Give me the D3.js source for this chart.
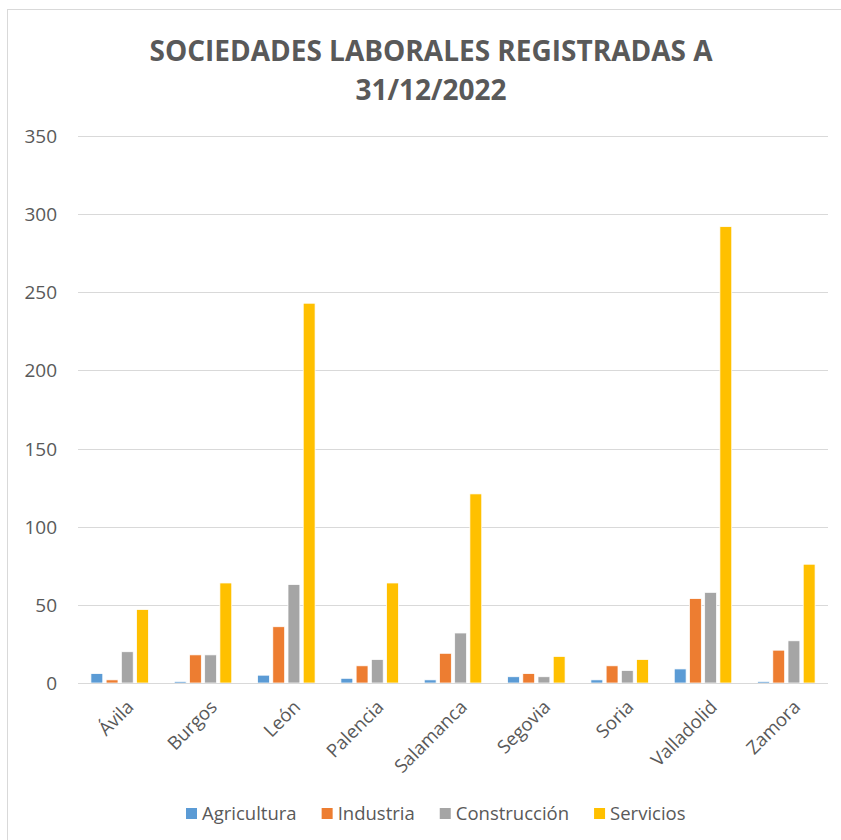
<!DOCTYPE html>
<html>
<head>
<meta charset="utf-8">
<script src="https://cdn.jsdelivr.net/npm/d3@7"></script>
<style>
body { margin: 0; background: #fff; }
#T { width: 841px; height: 840px; }
</style>
</head>
<body>
<div id="T"></div>
<script>
const provincias = ["Ávila", "Burgos", "León", "Palencia", "Salamanca", "Segovia", "Soria", "Valladolid", "Zamora"];
const series = ["Agricultura", "Industria", "Construcción", "Servicios"];
const colores = ["#5b9bd5", "#ed7d31", "#a5a5a5", "#ffc000"];
const agricultura = [6, 1, 5, 3, 2, 4, 2, 9, 1];
const industria = [2, 18, 36, 11, 19, 6, 11, 54, 21];
const construccion = [20, 18, 63, 15, 32, 4, 8, 58, 27];
const servicios = [47, 64, 243, 64, 121, 17, 15, 292, 76];
const yTicks = [0, 50, 100, 150, 200, 250, 300, 350];

const valores = [agricultura, industria, construccion, servicios];
const fuente = "'Open Sans', sans-serif";

const parent = d3.select('#T');
const width = 841, height = 840;
const SVG = parent.append('svg')
    .attr("width", width)
    .attr("height", height);

// marco del grafico
SVG.append("rect")
    .attr("x", 7.5).attr("y", 9.5)
    .attr("width", 840).attr("height", 840)
    .attr("fill", "none").attr("stroke", "#d9d9d9");

SVG.append("text")
    .attr("x", 431).attr("y", 61)
    .attr("text-anchor", "middle")
    .attr("fill", "#595959")
    .style("font-family", fuente)
    .style("font-weight", "bold")
    .style("font-size", "28px")
    .text("SOCIEDADES LABORALES REGISTRADAS A");
SVG.append("text")
    .attr("x", 431).attr("y", 100)
    .attr("text-anchor", "middle")
    .attr("fill", "#595959")
    .style("font-family", fuente)
    .style("font-weight", "bold")
    .style("font-size", "28px")
    .text("31/12/2022");

const x0 = d3.scaleBand().domain(provincias).range([78, 828]).paddingInner(0.31).paddingOuter(0.155);
const x1 = d3.scaleBand().domain(series).range([0, x0.bandwidth()]).paddingInner(0.22);
const y = d3.scaleLinear().domain([0, 350]).range([683, 136]);

// rejilla
SVG.append("g").selectAll("line")
    .data(yTicks)
    .join("line")
    .attr("x1", 78).attr("x2", 828)
    .attr("y1", d => Math.round(y(d)) + 0.5)
    .attr("y2", d => Math.round(y(d)) + 0.5)
    .attr("stroke", "#d9d9d9")
    .attr("stroke-width", 1);

SVG.append("g").selectAll("text")
    .data(yTicks)
    .join("text")
    .attr("x", 57)
    .attr("y", d => y(d) + 7)
    .attr("text-anchor", "end")
    .attr("fill", "#595959")
    .style("font-family", fuente)
    .style("font-size", "19px")
    .text(d => d);

// barras
const grupos = SVG.append("g").selectAll("g")
    .data(provincias)
    .join("g")
    .attr("transform", d => `translate(${x0(d)},0)`);

grupos.selectAll("rect")
    .data((d, i) => series.map((s, j) => ({ s: s, v: valores[j][i], c: colores[j] })))
    .join("rect")
    .attr("x", d => x1(d.s))
    .attr("width", x1.bandwidth())
    .attr("y", d => y(d.v))
    .attr("height", d => y(0) - y(d.v))
    .attr("fill", d => d.c)
    .attr("stroke", "#fff")
    .attr("stroke-width", 0.75);

// eje x
SVG.append("line")
    .attr("x1", 78).attr("x2", 828)
    .attr("y1", 683.5).attr("y2", 683.5)
    .attr("stroke", "#d9d9d9");

SVG.append("g").selectAll("text")
    .data(provincias)
    .join("text")
    .attr("transform", d => `translate(${x0(d) + x0.bandwidth() / 2 + 6},${699}) rotate(-45)`)
    .attr("text-anchor", "end")
    .attr("dy", "0.7em")
    .attr("fill", "#595959")
    .style("font-family", fuente)
    .style("font-size", "18.5px")
    .text(d => d);

// leyenda
let lx = 186;
series.forEach((s, j) => {
    SVG.append("rect")
        .attr("x", lx).attr("y", 808)
        .attr("width", 11).attr("height", 11)
        .attr("fill", colores[j]);
    const t = SVG.append("text")
        .attr("x", lx + 16).attr("y", 820)
        .attr("fill", "#595959")
        .style("font-family", fuente)
        .style("font-size", "18.5px")
        .text(s);
    lx += 16 + t.node().getComputedTextLength() + 25;
});
</script>
</body>
</html>
